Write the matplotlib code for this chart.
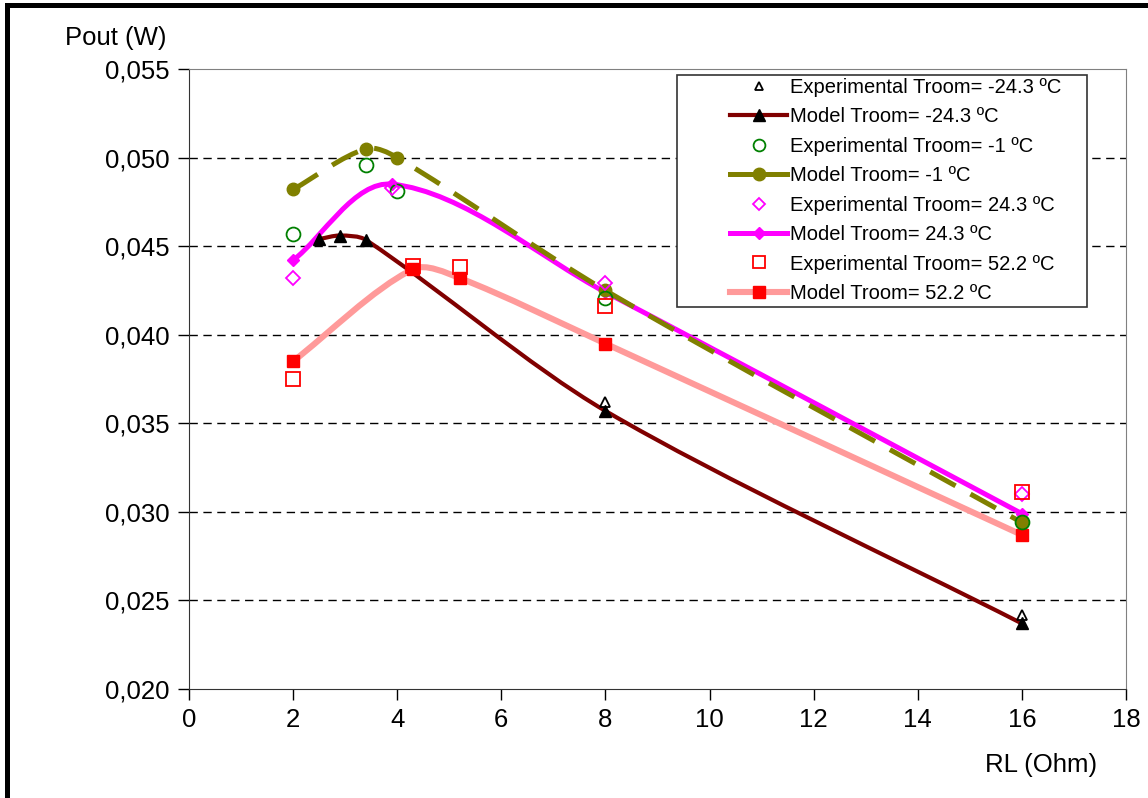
import matplotlib
matplotlib.use('Agg')
import numpy as np
import matplotlib.pyplot as plt
from matplotlib.path import Path
from matplotlib.patches import PathPatch, Rectangle
from matplotlib.lines import Line2D
from matplotlib.ticker import FuncFormatter

plt.rcParams['font.family'] = ['Liberation Sans', 'DejaVu Sans']

# Data (RL in Ohm, Pout in W)
rl_model_m24 = [2.5, 2.9, 3.4, 8, 16]
pout_model_m24 = [0.0454, 0.0456, 0.04535, 0.0357, 0.0237]
rl_exp_m24 = [8, 16]
pout_exp_m24 = [0.0362, 0.0242]

rl_model_m1 = [2, 3.4, 4, 8, 16]
pout_model_m1 = [0.0482, 0.0505, 0.0500, 0.0425, 0.0294]
rl_exp_m1 = [2, 3.4, 4, 8, 16]
pout_exp_m1 = [0.0457, 0.0496, 0.0481, 0.0421, 0.0294]

rl_model_24 = [2, 3.9, 8, 16]
pout_model_24 = [0.0442, 0.0485, 0.0424, 0.0299]
rl_exp_24 = [2, 3.9, 8, 16]
pout_exp_24 = [0.0432, 0.0483, 0.0429, 0.0310]

rl_model_52 = [2, 4.3, 5.2, 8, 16]
pout_model_52 = [0.0385, 0.0437, 0.0432, 0.0395, 0.0287]
rl_exp_52 = [2, 4.3, 5.2, 8, 16]
pout_exp_52 = [0.0375, 0.0439, 0.0438, 0.0416, 0.0311]

x_ticks = list(range(0, 19, 2))
y_ticks = [0.020, 0.025, 0.030, 0.035, 0.040, 0.045, 0.050, 0.055]

labels = [
    'Experimental Troom= -24.3 ºC', 'Model Troom= -24.3 ºC',
    'Experimental Troom= -1 ºC', 'Model Troom= -1 ºC',
    'Experimental Troom= 24.3 ºC', 'Model Troom= 24.3 ºC',
    'Experimental Troom= 52.2 ºC', 'Model Troom= 52.2 ºC',
]


def smooth_path(ax, xs, ys, t=0.3):
    """Smoothed line like Excel's: Bezier segments, control points worked out in pixel space."""
    tr = ax.transData
    p = tr.transform(np.column_stack([xs, ys]))
    n = len(p)
    tang = []
    for i in range(n):
        d = p[min(i + 1, n - 1)] - p[max(i - 1, 0)]
        tang.append(d / np.hypot(*d))
    verts = [p[0]]
    codes = [Path.MOVETO]
    for i in range(n - 1):
        chord = np.hypot(*(p[i + 1] - p[i]))
        verts += [p[i] + tang[i] * chord * t, p[i + 1] - tang[i + 1] * chord * t, p[i + 1]]
        codes += [Path.CURVE4] * 3
    return Path(tr.inverted().transform(np.array(verts)), codes)


fig = plt.figure(figsize=(11.48, 7.98), dpi=100)
ax = fig.add_axes([0.1646, 0.1366, 0.8162, 0.7769])
ax.set_xlim(0, 18)
ax.set_ylim(0.020, 0.055)

styles = [
    dict(xs=rl_model_52, ys=pout_model_52, color='#ff9a9a', lw=4.4, ls='-', marker='s', mfc='red', ms=8),
    dict(xs=rl_model_24, ys=pout_model_24, color='#ff00ff', lw=3.6, ls='-', marker='D', mfc='#ff00ff', ms=6.5),
    dict(xs=rl_model_m1, ys=pout_model_m1, color='#808000', lw=3.6, ls=(0, (5.8, 3.4)), marker='o', mfc='#808000', ms=9),
    dict(xs=rl_model_m24, ys=pout_model_m24, color='#800000', lw=3.0, ls='-', marker='^', mfc='black', ms=8),
]
for s in styles:
    patch = PathPatch(smooth_path(ax, s['xs'], s['ys']), facecolor='none', edgecolor=s['color'],
                      lw=s['lw'], ls=s['ls'], capstyle='butt', zorder=2)
    ax.add_patch(patch)
    ax.plot(s['xs'], s['ys'], linestyle='none', marker=s['marker'], mfc=s['mfc'], mec=s['mfc'],
            ms=s['ms'], zorder=3)

exp_styles = [
    (rl_exp_m24, pout_exp_m24, '^', 'black', 7),
    (rl_exp_m1, pout_exp_m1, 'o', 'green', 10),
    (rl_exp_24, pout_exp_24, 'D', '#ff00ff', 7),
    (rl_exp_52, pout_exp_52, 's', 'red', 10),
]
for xs, ys, m, c, ms in exp_styles:
    ax.plot(xs, ys, linestyle='none', marker=m, mfc='none', mec=c, mew=1.3, ms=ms, zorder=4)

ax.set_xticks(x_ticks)
ax.set_yticks(y_ticks)
ax.yaxis.set_major_formatter(FuncFormatter(lambda v, p: f'{v:.3f}'.replace('.', ',')))
ax.tick_params(axis='both', labelsize=18.5, direction='out', length=8, width=1, colors='black', pad=6)
for yv in y_ticks[1:-1]:
    ax.axhline(yv, color='black', lw=1, ls=(0, (6, 4)), zorder=1)
ax.spines['left'].set_color('#333333')
ax.spines['bottom'].set_color('#333333')
ax.spines['top'].set_color('#808080')
ax.spines['right'].set_color('#808080')

fig.text(0.1005, 0.952, 'Pout (W)', fontsize=18.5, ha='center', va='center')
fig.text(0.907, 0.041, 'RL (Ohm)', fontsize=18.5, ha='center', va='center')

handles = []
for (xs, ys, m, c, ms), s in zip(exp_styles, styles[::-1]):
    handles.append(Line2D([], [], ls='none', marker=m, mfc='none', mec=c, mew=1.3, ms=ms * 0.85))
    handles.append(Line2D([], [], color=s['color'], lw=s['lw'], marker=s['marker'],
                          mfc=s['mfc'], mec=s['mfc'], ms=s['ms']))

# white legend box, drawn by hand so it can be wider than the entries
ax.add_patch(Rectangle((0.5208, 0.6161), 0.4376, 0.3742, transform=ax.transAxes,
                       facecolor='white', edgecolor='#333333', lw=1.2, zorder=5))
leg = ax.legend(handles, labels, loc='upper left', bbox_to_anchor=(0.5774, 0.986), fontsize=14.5,
                numpoints=1, frameon=False, borderpad=0, borderaxespad=0,
                handlelength=2.85, handletextpad=0.15, labelspacing=0.52)
leg.set_zorder(6)

# outer chart frame (only left and top edges fall inside the image)
fig.patches.append(Rectangle((0.0065, -0.1), 1.2, 1.0937, transform=fig.transFigure,
                             fill=False, edgecolor='black', lw=3.6))

fig.savefig('out.png', dpi=100)
